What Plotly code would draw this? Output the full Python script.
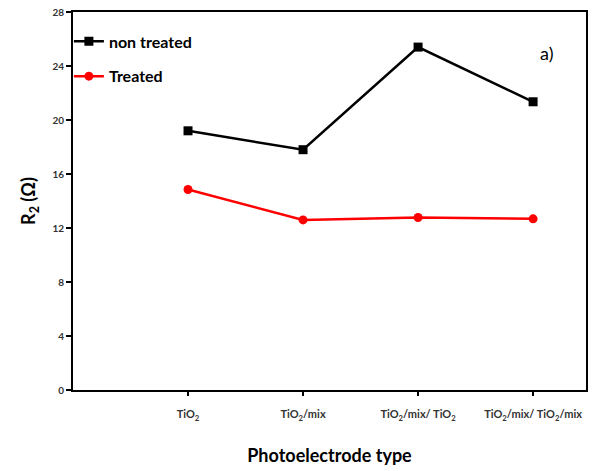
import plotly.graph_objects as go

# Photoelectrode types and charge-transfer resistance R2 (Ohm)
categories = ["TiO<sub>2</sub>", "TiO<sub>2</sub>/mix", "TiO<sub>2</sub>/mix/ TiO<sub>2</sub>",
              "TiO<sub>2</sub>/mix/ TiO<sub>2</sub>/mix"]
positions = [1, 2, 3, 4]
non_treated = [19.2, 17.8, 25.4, 21.35]
treated = [14.85, 12.6, 12.78, 12.68]
y_ticks = [0, 4, 8, 12, 16, 20, 24, 28]

FONT = "Lato, 'Open Sans', sans-serif"

fig = go.Figure()
fig.add_trace(go.Scatter(
    x=positions, y=non_treated, name="non treated", mode="lines+markers",
    legendgroup="a",
    line=dict(color="black", width=2.5),
    marker=dict(symbol="square", size=9, color="black"),
))
fig.add_trace(go.Scatter(
    x=positions, y=treated, name="Treated", mode="lines+markers",
    legendgroup="b",
    line=dict(color="#ff0000", width=2.5),
    marker=dict(symbol="circle", size=9, color="#ff0000"),
))

fig.update_layout(
    width=593, height=471,
    margin=dict(l=73, r=5, t=11, b=81),
    paper_bgcolor="white", plot_bgcolor="white",
    font=dict(family=FONT, color="black"),
    showlegend=True,
    legend=dict(
        x=-0.008, y=0.967, xanchor="left", yanchor="top",
        font=dict(size=16, family=FONT, color="black", weight="bold"),
        bgcolor="rgba(0,0,0,0)", tracegroupgap=11, itemwidth=30,
    ),
    xaxis=dict(
        range=[0, 4.46], tickmode="array", tickvals=positions, ticktext=categories,
        showline=True, linecolor="black", linewidth=2, mirror=True,
        ticks="outside", ticklen=4, tickcolor="black", tickwidth=2,
        ticklabelstandoff=9,
        showgrid=False, zeroline=False,
        tickfont=dict(size=11, family=FONT, color="#333333", weight="bold"),
        title=dict(text="<b>Photoelectrode type</b>", font=dict(size=18, family=FONT, color="black"),
                   standoff=28),
    ),
    yaxis=dict(
        range=[0, 28], tickmode="array", tickvals=y_ticks,
        showline=True, linecolor="black", linewidth=2, mirror=True,
        ticks="outside", ticklen=5, tickcolor="black", tickwidth=2,
        showgrid=False, zeroline=False,
        tickfont=dict(size=10, family=FONT, color="#333333", weight="bold"),
        title=dict(text="<b>R<sub>2</sub> (Ω)</b>", font=dict(size=18, family=FONT, color="black"),
                   standoff=12),
    ),
    annotations=[dict(
        x=0.94, y=0.925, xref="paper", yref="paper", text="a)", showarrow=False,
        font=dict(size=18, family=FONT, color="black"),
    )],
)

fig.write_html("out.html")
